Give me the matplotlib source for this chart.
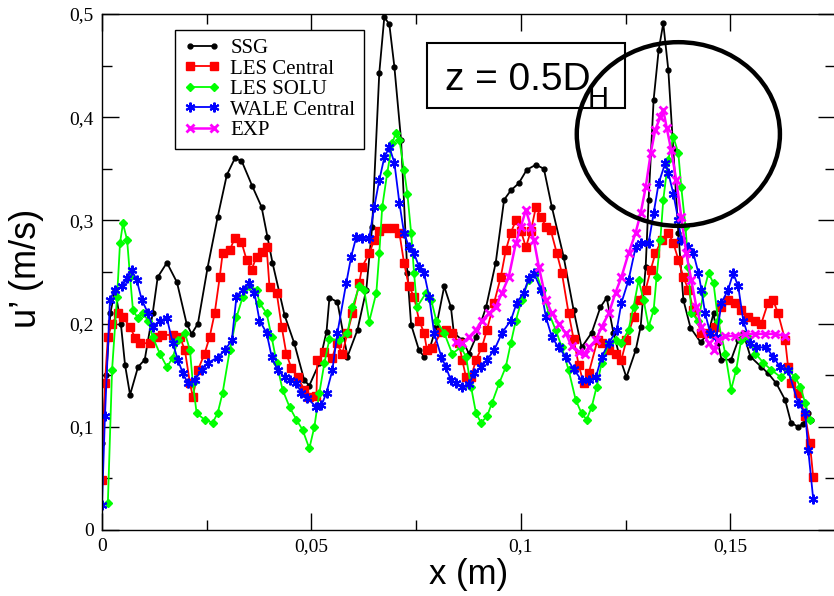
import matplotlib
matplotlib.use("Agg")
import matplotlib.pyplot as plt
from matplotlib.patches import Ellipse, Rectangle
from matplotlib.ticker import MultipleLocator, FuncFormatter

ssg = [(0.0, 0.084), (0.0010, 0.150), (0.0020, 0.210), (0.0031, 0.233), (0.0045, 0.200),
       (0.0055, 0.160), (0.0067, 0.131), (0.0086, 0.158), (0.0102, 0.165), (0.0121, 0.210),
       (0.0133, 0.245), (0.0155, 0.259), (0.0179, 0.240), (0.0202, 0.200), (0.0214, 0.190),
       (0.0229, 0.200), (0.0252, 0.254), (0.0276, 0.303), (0.0298, 0.344), (0.0317, 0.360),
       (0.0333, 0.358), (0.0359, 0.333), (0.0381, 0.313), (0.0395, 0.284), (0.0407, 0.259),
       (0.0436, 0.208), (0.0459, 0.181), (0.0483, 0.145), (0.0495, 0.140), (0.0519, 0.162),
       (0.0536, 0.192), (0.0543, 0.225), (0.0562, 0.221), (0.0586, 0.168), (0.0610, 0.194),
       (0.0631, 0.233), (0.0645, 0.294), (0.0662, 0.443), (0.0674, 0.497), (0.0686, 0.490),
       (0.0698, 0.449), (0.0714, 0.378), (0.0729, 0.249), (0.0738, 0.199), (0.0757, 0.174),
       (0.0769, 0.168), (0.0781, 0.174), (0.0798, 0.197), (0.0817, 0.236), (0.0833, 0.216),
       (0.0840, 0.191), (0.0860, 0.184), (0.0876, 0.171), (0.0893, 0.187), (0.0917, 0.216),
       (0.0940, 0.259), (0.0960, 0.320), (0.0976, 0.329), (0.0995, 0.336), (0.1014, 0.349),
       (0.1036, 0.354), (0.1055, 0.350), (0.1074, 0.313), (0.1102, 0.265), (0.1126, 0.213),
       (0.1145, 0.177), (0.1169, 0.191), (0.1190, 0.216), (0.1205, 0.225), (0.1221, 0.191),
       (0.1238, 0.165), (0.1252, 0.148), (0.1274, 0.174), (0.1286, 0.197), (0.1298, 0.255),
       (0.1305, 0.320), (0.1317, 0.417), (0.1329, 0.465), (0.1340, 0.491), (0.1352, 0.446),
       (0.1364, 0.368), (0.1376, 0.288), (0.1388, 0.223), (0.1405, 0.196), (0.1429, 0.182),
       (0.1448, 0.191), (0.1460, 0.210), (0.1471, 0.181), (0.1479, 0.165), (0.1502, 0.165),
       (0.1519, 0.184), (0.1531, 0.191), (0.1548, 0.168), (0.1574, 0.158), (0.1590, 0.152),
       (0.1610, 0.142), (0.1631, 0.126), (0.1645, 0.104), (0.1662, 0.100), (0.1674, 0.103),
       (0.1686, 0.113), (0.1693, 0.107)]

les_central = [(0.0, 0.048), (0.0007, 0.142), (0.0014, 0.187), (0.0024, 0.200), (0.0038, 0.210),
               (0.0050, 0.206), (0.0067, 0.197), (0.0079, 0.186), (0.0090, 0.181), (0.0114, 0.181),
               (0.0131, 0.187), (0.0143, 0.189), (0.0169, 0.189), (0.0186, 0.187), (0.0198, 0.174),
               (0.0210, 0.142), (0.0217, 0.129), (0.0229, 0.155), (0.0245, 0.171), (0.0257, 0.187),
               (0.0269, 0.210), (0.0281, 0.245), (0.0288, 0.268), (0.0305, 0.271), (0.0317, 0.283),
               (0.0333, 0.279), (0.0345, 0.262), (0.0357, 0.252), (0.0369, 0.265), (0.0383, 0.269),
               (0.0393, 0.274), (0.0400, 0.235), (0.0417, 0.230), (0.0429, 0.197), (0.0440, 0.171),
               (0.0452, 0.157), (0.0467, 0.148), (0.0483, 0.136), (0.0495, 0.129), (0.0512, 0.130),
               (0.0514, 0.165), (0.0531, 0.172), (0.0550, 0.167), (0.0560, 0.181), (0.0574, 0.171),
               (0.0586, 0.191), (0.0598, 0.210), (0.0614, 0.239), (0.0621, 0.255), (0.0638, 0.268),
               (0.0650, 0.281), (0.0662, 0.290), (0.0679, 0.293), (0.0698, 0.293), (0.0710, 0.288),
               (0.0721, 0.259), (0.0733, 0.236), (0.0745, 0.226), (0.0757, 0.203), (0.0769, 0.191),
               (0.0776, 0.174), (0.0788, 0.176), (0.0810, 0.192), (0.0821, 0.194), (0.0836, 0.191),
               (0.0852, 0.181), (0.0860, 0.165), (0.0869, 0.148), (0.0881, 0.148), (0.0893, 0.165),
               (0.0907, 0.177), (0.0919, 0.194), (0.0936, 0.220), (0.0952, 0.245), (0.0964, 0.271),
               (0.0976, 0.288), (0.0988, 0.300), (0.1000, 0.290), (0.1012, 0.274), (0.1024, 0.290),
               (0.1036, 0.313), (0.1048, 0.303), (0.1060, 0.294), (0.1071, 0.291), (0.1086, 0.268),
               (0.1098, 0.249), (0.1114, 0.210), (0.1126, 0.185), (0.1138, 0.160), (0.1150, 0.142),
               (0.1162, 0.152), (0.1183, 0.184), (0.1193, 0.181), (0.1210, 0.174), (0.1226, 0.171),
               (0.1240, 0.165), (0.1252, 0.184), (0.1269, 0.206), (0.1281, 0.223), (0.1298, 0.233),
               (0.1310, 0.252), (0.1321, 0.268), (0.1336, 0.281), (0.1352, 0.288), (0.1364, 0.278),
               (0.1376, 0.262), (0.1388, 0.245), (0.1400, 0.233), (0.1412, 0.213), (0.1431, 0.191),
               (0.1448, 0.191), (0.1464, 0.197), (0.1479, 0.216), (0.1495, 0.223), (0.1512, 0.220),
               (0.1526, 0.213), (0.1543, 0.206), (0.1560, 0.203), (0.1574, 0.200), (0.1590, 0.220),
               (0.1602, 0.223), (0.1614, 0.210), (0.1631, 0.184), (0.1638, 0.158), (0.1645, 0.142),
               (0.1662, 0.133), (0.1679, 0.110), (0.1690, 0.084), (0.1698, 0.051)]

les_solu = [(0.0014, 0.026), (0.0024, 0.155), (0.0036, 0.226), (0.0043, 0.278), (0.0050, 0.297),
            (0.0060, 0.281), (0.0067, 0.245), (0.0074, 0.213), (0.0086, 0.205), (0.0098, 0.210),
            (0.0110, 0.203), (0.0121, 0.187), (0.0138, 0.171), (0.0155, 0.158), (0.0169, 0.167),
            (0.0181, 0.184), (0.0198, 0.191), (0.0210, 0.174), (0.0217, 0.142), (0.0226, 0.113),
            (0.0245, 0.107), (0.0264, 0.104), (0.0276, 0.113), (0.0288, 0.133), (0.0305, 0.174),
            (0.0321, 0.206), (0.0336, 0.226), (0.0352, 0.236), (0.0369, 0.233), (0.0376, 0.220),
            (0.0393, 0.210), (0.0405, 0.187), (0.0417, 0.162), (0.0431, 0.136), (0.0448, 0.119),
            (0.0464, 0.107), (0.0479, 0.097), (0.0495, 0.079), (0.0507, 0.100), (0.0519, 0.133),
            (0.0531, 0.162), (0.0543, 0.185), (0.0567, 0.184), (0.0586, 0.191), (0.0598, 0.216),
            (0.0614, 0.236), (0.0626, 0.233), (0.0638, 0.202), (0.0655, 0.230), (0.0662, 0.268),
            (0.0669, 0.313), (0.0681, 0.346), (0.0693, 0.375), (0.0702, 0.385), (0.0710, 0.378),
            (0.0721, 0.349), (0.0729, 0.326), (0.0738, 0.288), (0.0745, 0.249), (0.0752, 0.216),
            (0.0774, 0.230), (0.0786, 0.223), (0.0798, 0.203), (0.0817, 0.191), (0.0836, 0.171),
            (0.0857, 0.177), (0.0869, 0.168), (0.0881, 0.139), (0.0893, 0.113), (0.0905, 0.104),
            (0.0919, 0.110), (0.0931, 0.123), (0.0948, 0.142), (0.0964, 0.158), (0.0976, 0.181),
            (0.0988, 0.203), (0.1002, 0.223), (0.1019, 0.242), (0.1036, 0.250), (0.1050, 0.233),
            (0.1067, 0.210), (0.1083, 0.194), (0.1098, 0.177), (0.1114, 0.155), (0.1131, 0.126),
            (0.1145, 0.113), (0.1157, 0.107), (0.1169, 0.119), (0.1181, 0.139), (0.1193, 0.162),
            (0.1210, 0.181), (0.1226, 0.184), (0.1240, 0.181), (0.1257, 0.194), (0.1269, 0.216),
            (0.1281, 0.242), (0.1293, 0.223), (0.1305, 0.197), (0.1317, 0.213), (0.1324, 0.245),
            (0.1333, 0.281), (0.1340, 0.320), (0.1352, 0.359), (0.1364, 0.381), (0.1376, 0.365),
            (0.1383, 0.332), (0.1393, 0.294), (0.1400, 0.255), (0.1407, 0.210), (0.1424, 0.203),
            (0.1436, 0.230), (0.1448, 0.249), (0.1460, 0.239), (0.1471, 0.203), (0.1488, 0.171),
            (0.1502, 0.136), (0.1514, 0.155), (0.1526, 0.184), (0.1543, 0.187), (0.1560, 0.171),
            (0.1579, 0.162), (0.1598, 0.155), (0.1621, 0.148), (0.1638, 0.155), (0.1655, 0.148),
            (0.1667, 0.139), (0.1679, 0.123), (0.1690, 0.107)]

wale_central = [(0.0, 0.024), (0.0007, 0.110), (0.0019, 0.223), (0.0031, 0.233), (0.0048, 0.236),
                (0.0060, 0.244), (0.0071, 0.252), (0.0083, 0.242), (0.0095, 0.223), (0.0110, 0.210),
                (0.0121, 0.197), (0.0138, 0.203), (0.0155, 0.205), (0.0169, 0.181), (0.0181, 0.165),
                (0.0193, 0.152), (0.0205, 0.142), (0.0221, 0.145), (0.0238, 0.155), (0.0252, 0.162),
                (0.0276, 0.167), (0.0293, 0.174), (0.0310, 0.184), (0.0321, 0.226), (0.0336, 0.233),
                (0.0352, 0.239), (0.0364, 0.230), (0.0376, 0.203), (0.0393, 0.191), (0.0405, 0.168),
                (0.0419, 0.155), (0.0436, 0.148), (0.0448, 0.145), (0.0464, 0.142), (0.0476, 0.133),
                (0.0490, 0.128), (0.0512, 0.119), (0.0524, 0.121), (0.0536, 0.133), (0.0550, 0.155),
                (0.0562, 0.191), (0.0583, 0.239), (0.0595, 0.265), (0.0607, 0.284), (0.0621, 0.283),
                (0.0638, 0.283), (0.0650, 0.313), (0.0662, 0.339), (0.0674, 0.361), (0.0686, 0.371),
                (0.0698, 0.356), (0.0710, 0.317), (0.0721, 0.288), (0.0733, 0.274), (0.0745, 0.268),
                (0.0757, 0.255), (0.0769, 0.249), (0.0781, 0.226), (0.0793, 0.191), (0.0810, 0.168),
                (0.0821, 0.158), (0.0833, 0.145), (0.0845, 0.142), (0.0860, 0.139), (0.0876, 0.141),
                (0.0888, 0.152), (0.0905, 0.158), (0.0919, 0.165), (0.0936, 0.174), (0.0955, 0.191),
                (0.0976, 0.203), (0.0990, 0.220), (0.1007, 0.230), (0.1019, 0.244), (0.1031, 0.249),
                (0.1048, 0.233), (0.1060, 0.206), (0.1074, 0.187), (0.1090, 0.177), (0.1107, 0.168),
                (0.1126, 0.156), (0.1145, 0.145), (0.1162, 0.145), (0.1179, 0.148), (0.1193, 0.168),
                (0.1210, 0.181), (0.1229, 0.194), (0.1240, 0.220), (0.1257, 0.242), (0.1274, 0.274),
                (0.1288, 0.278), (0.1305, 0.278), (0.1317, 0.307), (0.1329, 0.336), (0.1345, 0.356),
                (0.1352, 0.346), (0.1364, 0.326), (0.1376, 0.300), (0.1383, 0.281), (0.1400, 0.274),
                (0.1412, 0.268), (0.1424, 0.249), (0.1431, 0.233), (0.1440, 0.210), (0.1452, 0.191),
                (0.1467, 0.187), (0.1479, 0.220), (0.1495, 0.233), (0.1507, 0.249), (0.1519, 0.236),
                (0.1531, 0.203), (0.1548, 0.181), (0.1562, 0.177), (0.1586, 0.177), (0.1602, 0.168),
                (0.1619, 0.158), (0.1638, 0.155), (0.1662, 0.123), (0.1679, 0.113), (0.1686, 0.078),
                (0.1698, 0.030)]

exp = [(0.0845, 0.182), (0.0860, 0.181), (0.0876, 0.187), (0.0893, 0.194), (0.0907, 0.203),
       (0.0924, 0.210), (0.0940, 0.216), (0.0955, 0.230), (0.0971, 0.245), (0.0988, 0.278),
       (0.1000, 0.294), (0.1012, 0.310), (0.1024, 0.294), (0.1031, 0.281), (0.1043, 0.255),
       (0.1060, 0.223), (0.1074, 0.210), (0.1090, 0.200), (0.1107, 0.191), (0.1121, 0.178),
       (0.1138, 0.172), (0.1152, 0.171), (0.1162, 0.177), (0.1179, 0.184), (0.1193, 0.197),
       (0.1210, 0.210), (0.1226, 0.230), (0.1240, 0.245), (0.1257, 0.268), (0.1274, 0.288),
       (0.1286, 0.307), (0.1298, 0.332), (0.1310, 0.365), (0.1321, 0.388), (0.1333, 0.400),
       (0.1340, 0.407), (0.1348, 0.390), (0.1359, 0.368), (0.1371, 0.339), (0.1383, 0.303),
       (0.1395, 0.268), (0.1407, 0.242), (0.1419, 0.216), (0.1431, 0.197), (0.1448, 0.181),
       (0.1460, 0.174), (0.1471, 0.184), (0.1488, 0.188), (0.1512, 0.188), (0.1536, 0.190),
       (0.1560, 0.190), (0.1583, 0.190), (0.1607, 0.190), (0.1631, 0.188)]

labels = ["SSG", "LES Central", "LES SOLU", "WALE Central", "EXP"]
x_ticks = [0, 0.05, 0.1, 0.15]
y_ticks = [0, 0.1, 0.2, 0.3, 0.4, 0.5]

SERIF = "Liberation Serif"
SANS = "Liberation Sans"

fig = plt.figure(figsize=(8.34, 5.96), dpi=100)
W, H = 834, 596
ax = fig.add_axes([102 / W, 66 / H, 733 / W, 516 / H])

styles = [
    dict(color="black", marker="o", ms=3.5, lw=1.3),
    dict(color="red", marker="s", ms=6, lw=1.3),
    dict(color="#00ff00", marker="D", ms=4.5, lw=1.3),
    dict(color="blue", marker=(6, 2, 0), ms=7, mew=1.5, lw=1.3),
    dict(color="magenta", marker="x", ms=6, mew=2, lw=1.8),
]
for data, lab, st in zip([ssg, les_central, les_solu, wale_central, exp], labels, styles):
    xs, ys = zip(*data)
    ax.plot(xs, ys, label=lab, **st)

ax.set_xlim(0, 0.175)
ax.set_ylim(0, 0.5)
ax.set_xticks(x_ticks)
ax.set_yticks(y_ticks)
ax.xaxis.set_minor_locator(MultipleLocator(0.025))
ax.yaxis.set_minor_locator(MultipleLocator(0.05))
fmt = FuncFormatter(lambda v, p: ("%g" % v).replace(".", ","))
ax.xaxis.set_major_formatter(fmt)
ax.yaxis.set_major_formatter(fmt)
ax.tick_params(which="both", direction="in", top=True, right=True, width=1)
ax.tick_params(which="major", length=12, labelsize=14, pad=6)
ax.tick_params(which="minor", length=7)
for lab in ax.get_xticklabels() + ax.get_yticklabels():
    lab.set_family(SERIF)
for sp in ax.spines.values():
    sp.set_linewidth(1)

ax.set_xlabel("x (m)", fontsize=25, family=SANS, labelpad=2)
fig.text(27 / W, 1 - 268 / H, "u\u2019 (m/s)", rotation=90, fontsize=26,
         family=SANS, ha="center", va="center")

leg = ax.legend(loc="upper left", bbox_to_anchor=(175 / W, 1 - 30 / H),
                bbox_transform=fig.transFigure, borderaxespad=0,
                prop={"family": SERIF, "size": 15}, numpoints=2,
                handlelength=1.75, handletextpad=0.5, labelspacing=0.05,
                borderpad=0.4, fancybox=False, framealpha=1, edgecolor="black")
leg.get_frame().set_linewidth(1)

# label box
fig.patches.append(Rectangle((427 / W, 1 - 108 / H), 198 / W, 65 / H,
                             transform=fig.transFigure, fill=False,
                             edgecolor="black", lw=1.5, zorder=5))
fig.text(445 / W, 1 - 90 / H, "z = 0.5D", fontsize=28,
         family=SANS, ha="left", va="baseline", zorder=6)
fig.text(588 / W, 1 - 107 / H, "H", fontsize=21,
         family=SANS, ha="left", va="baseline", zorder=6)

# highlight circle
ax.add_patch(Ellipse((0.1376, 0.3837), 0.0485, 0.178, fill=False,
                     edgecolor="black", lw=3.2, zorder=10, clip_on=False))

fig.savefig("out.png", dpi=100)
